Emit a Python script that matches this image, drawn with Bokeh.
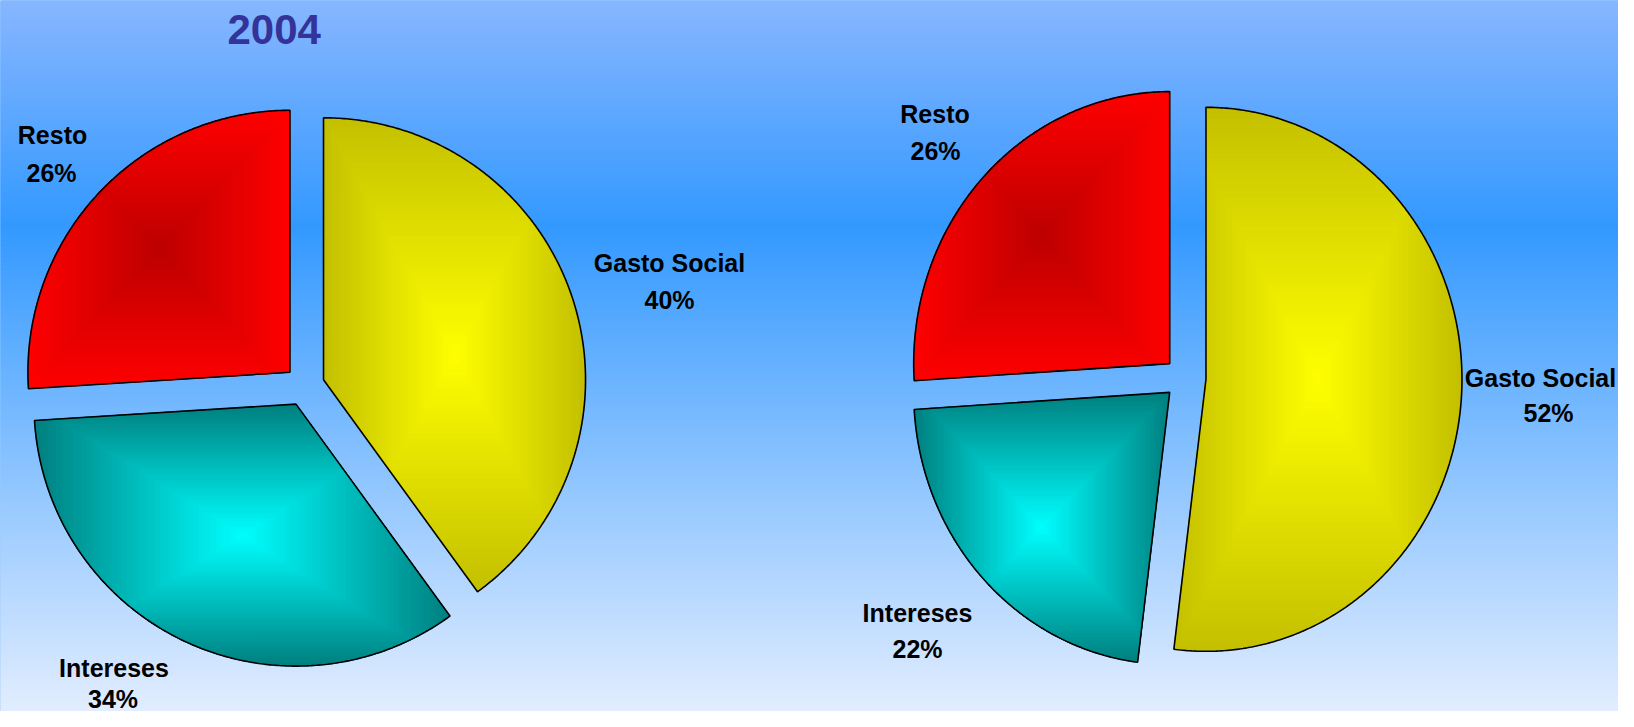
import numpy as np
from bokeh.plotting import figure
from bokeh.models import Range1d
from bokeh.embed import file_html
from bokeh.resources import INLINE
from bokeh.core.properties import value

# ---------------- data ----------------
categories = ["Gasto Social", "Intereses", "Resto"]
shares_2004 = [40, 34, 26]
shares_second = [52, 22, 26]
title_left = "2004"

# ---------------- styles / layout ----------------
edge_colors = {"Gasto Social": (196, 192, 0), "Intereses": (0, 128, 128), "Resto": (255, 0, 0)}
center_colors = {"Gasto Social": (255, 255, 0), "Intereses": (0, 255, 255), "Resto": (188, 0, 0)}

# pie geometry in picture pixel coordinates (y downwards)
pies = [
    dict(shares=shares_2004, cx=304.0, cy=385.5, rx=262.0, ry=262.0, explode=20.0),
    dict(shares=shares_second, cx=1184.5, cy=377.5, rx=256.0, ry=272.0, explode=21.0),
]
# label anchor points (two lines each: name, percentage)
label_pos = [
    {"Resto": ((52, 134.5), (51, 172)),
     "Gasto Social": ((669, 262.5), (669, 299)),
     "Intereses": ((113.5, 667), (112.5, 698))},
    {"Resto": ((934.5, 113.5), (935, 150)),
     "Gasto Social": ((1540, 377), (1548, 412.5)),
     "Intereses": ((917, 612), (917, 648))},
]

bg_stops = [(0.0, (135, 182, 255)), (0.31, (51, 153, 255)), (1.0, (232, 240, 255))]

W, H = 1618, 711

p = figure(width=W, height=H, output_backend="svg", toolbar_location=None,
           x_range=Range1d(0, W), y_range=Range1d(H, 0),
           min_border=0)
p.axis.visible = False
p.grid.visible = False
p.outline_line_color = None
p.background_fill_color = "#3399ff"
p.border_fill_color = "#3399ff"


def hexc(c):
    return "#%02x%02x%02x" % tuple(int(round(v)) for v in c)


def lerp(c0, c1, t):
    return tuple(a + (b - a) * t for a, b in zip(c0, c1))


# background gradient bands
band = 2
tops, bottoms, bcols = [], [], []
for yy in range(0, 728, band):
    f = yy / 727.0
    for (f0, c0), (f1, c1) in zip(bg_stops[:-1], bg_stops[1:]):
        if f0 <= f <= f1:
            col = lerp(c0, c1, (f - f0) / (f1 - f0))
            break
    tops.append(yy - 0.6)
    bottoms.append(yy + band + 0.6)
    bcols.append(hexc(col))
p.quad(left=-10, right=1640, top=tops, bottom=bottoms, fill_color=bcols, line_color=None)


def wedge_poly(ax, ay, rx, ry, a0, a1):
    n = max(int(abs(a0 - a1) * 2), 2) + 1
    th = np.radians(np.linspace(a0, a1, n))
    xs = [ax] + list(ax + rx * np.cos(th))
    ys = [ay] + list(ay - ry * np.sin(th))
    return xs, ys


def clip_poly(xs, ys, xmin, xmax, ymin, ymax):
    pts = list(zip(xs, ys))

    def clip(pts, inside, inter):
        out = []
        if not pts:
            return out
        prev = pts[-1]
        for cur in pts:
            if inside(cur):
                if not inside(prev):
                    out.append(inter(prev, cur))
                out.append(cur)
            elif inside(prev):
                out.append(inter(prev, cur))
            prev = cur
        return out

    def ix(xc):
        def f(a, b):
            t = (xc - a[0]) / (b[0] - a[0])
            return (xc, a[1] + t * (b[1] - a[1]))
        return f

    def iy(yc):
        def f(a, b):
            t = (yc - a[1]) / (b[1] - a[1])
            return (a[0] + t * (b[0] - a[0]), yc)
        return f

    pts = clip(pts, lambda q: q[0] >= xmin, ix(xmin))
    pts = clip(pts, lambda q: q[0] <= xmax, ix(xmax))
    pts = clip(pts, lambda q: q[1] >= ymin, iy(ymin))
    pts = clip(pts, lambda q: q[1] <= ymax, iy(ymax))
    return [q[0] for q in pts], [q[1] for q in pts]


N_LEVELS = 48
fill_xs, fill_ys, fill_cols = [], [], []
out_xs, out_ys = [], []
for pie in pies:
    cum = 0.0
    for cat, sh in zip(categories, pie["shares"]):
        a0 = 90.0 - cum * 3.6
        a1 = a0 - sh * 3.6
        cum += sh
        bis = np.radians((a0 + a1) / 2.0)
        ax = pie["cx"] + pie["explode"] * np.cos(bis)
        ay = pie["cy"] - pie["explode"] * np.sin(bis)
        xs, ys = wedge_poly(ax, ay, pie["rx"], pie["ry"], a0, a1)
        bx0, bx1, by0, by1 = min(xs), max(xs), min(ys), max(ys)
        mx, my = (bx0 + bx1) / 2, (by0 + by1) / 2
        hw, hh = (bx1 - bx0) / 2, (by1 - by0) / 2
        for i in range(N_LEVELS):
            t = 1.0 - i / N_LEVELS
            cxs, cys = clip_poly(xs, ys, mx - t * hw, mx + t * hw, my - t * hh, my + t * hh)
            if len(cxs) < 3:
                continue
            fill_xs.append(cxs)
            fill_ys.append(cys)
            fill_cols.append(hexc(lerp(center_colors[cat], edge_colors[cat], t)))
        out_xs.append(xs)
        out_ys.append(ys)

p.patches(fill_xs, fill_ys, fill_color=fill_cols, line_color=fill_cols, line_width=0.6)
p.patches(out_xs, out_ys, fill_color=None, line_color="black", line_width=1.6)

# labels
lx, ly, lt = [], [], []
for pie, pos in zip(pies, label_pos):
    for cat, sh in zip(categories, pie["shares"]):
        (x1, y1), (x2, y2) = pos[cat]
        lx += [x1, x2]
        ly += [y1, y2]
        lt += [cat, f"{sh}%"]
p.text(x=lx, y=ly, text=lt, text_font=value("Liberation Sans"), text_font_style="bold",
       text_font_size="25px", text_align="center", text_baseline="middle", text_color="black")

p.text(x=[273.7], y=[29], text=[title_left], text_font=value("Liberation Sans"),
       text_font_style="bold", text_font_size="42px", text_align="center",
       text_baseline="middle", text_color="#333399")

open("out.html", "w").write(file_html(p, INLINE))
